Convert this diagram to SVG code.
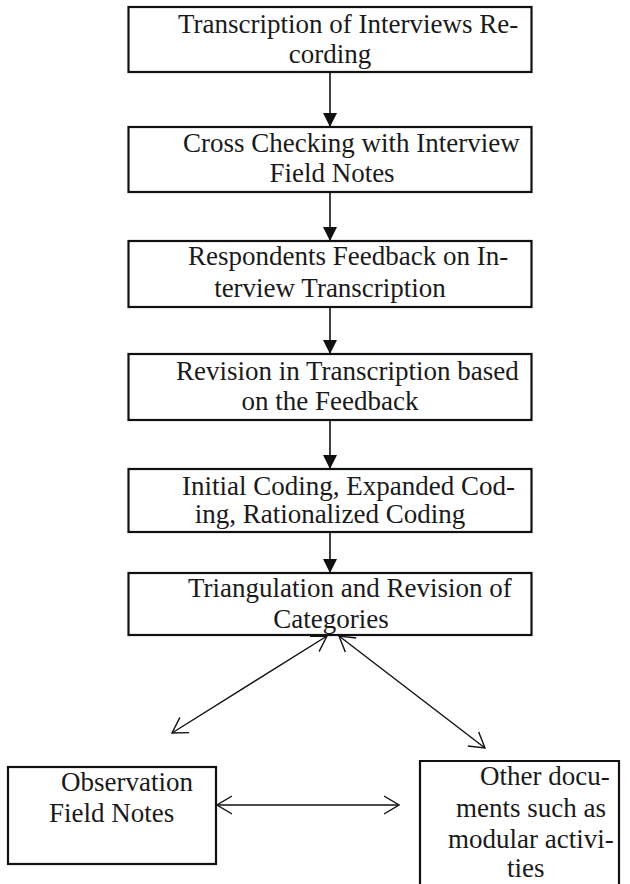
<svg xmlns="http://www.w3.org/2000/svg" width="630" height="884" viewBox="0 0 630 884">
  <defs>
    <style>
      .box { fill: #fff; stroke: #111; stroke-width: 2.2; }
      .lbl { font-family: "Liberation Serif", "Times New Roman", serif; font-size: 27px; fill: #1a1a1a; }
      .mid { text-anchor: middle; }
      .flow { stroke: #111; stroke-width: 1.6; fill: none; }
      .link { stroke: #111; stroke-width: 1.4; fill: none; }
    </style>
    <marker id="solid" viewBox="0 0 14 14" refX="14" refY="7" markerWidth="14" markerHeight="14" markerUnits="userSpaceOnUse" orient="auto">
      <path d="M0,0 L14,7 L0,14 Z" fill="#111"/>
    </marker>
    <marker id="open" viewBox="0 0 16 20" refX="15" refY="10" markerWidth="16" markerHeight="20" markerUnits="userSpaceOnUse" orient="auto-start-reverse">
      <path d="M0,1 L15,10 L0,19" fill="none" stroke="#111" stroke-width="1.4"/>
    </marker>
  </defs>
  <rect width="630" height="884" fill="#fff"/>

  <g id="n1">
    <rect class="box" x="128.5" y="7" width="403" height="65"/>
    <text class="lbl" x="178" y="33">Transcription of Interviews Re-</text>
    <text class="lbl mid" x="330" y="63">cording</text>
  </g>
  <g id="n2">
    <rect class="box" x="128.5" y="127" width="403" height="65"/>
    <text class="lbl" x="183" y="152">Cross Checking with Interview</text>
    <text class="lbl mid" x="332" y="182">Field Notes</text>
  </g>
  <g id="n3">
    <rect class="box" x="128.5" y="241" width="403" height="66"/>
    <text class="lbl" x="188" y="265">Respondents Feedback on In-</text>
    <text class="lbl mid" x="330" y="297">terview Transcription</text>
  </g>
  <g id="n4">
    <rect class="box" x="128.5" y="354" width="403" height="66"/>
    <text class="lbl" x="176" y="380">Revision in Transcription based</text>
    <text class="lbl mid" x="330" y="410">on the Feedback</text>
  </g>
  <g id="n5">
    <rect class="box" x="128.5" y="469" width="403" height="63"/>
    <text class="lbl" x="182" y="495">Initial Coding, Expanded Cod-</text>
    <text class="lbl mid" x="330" y="523">ing, Rationalized Coding</text>
  </g>
  <g id="n6">
    <rect class="box" x="128.5" y="573" width="403" height="62"/>
    <text class="lbl" x="188" y="597">Triangulation and Revision of</text>
    <text class="lbl mid" x="331" y="628">Categories</text>
  </g>
  <g id="n7">
    <rect class="box" x="8" y="767" width="208" height="97"/>
    <text class="lbl" x="61" y="791">Observation</text>
    <text class="lbl" x="49" y="822">Field Notes</text>
  </g>
  <g id="n8">
    <path class="box" d="M420,890 L420,761 L619,761 L619,890"/>
    <text class="lbl" x="480" y="785">Other docu-</text>
    <text class="lbl" x="456" y="817">ments such as</text>
    <text class="lbl" x="448" y="848">modular activi-</text>
    <text class="lbl" x="507" y="877">ties</text>
  </g>

  <g id="connectors">
    <line class="flow" x1="330" y1="73" x2="330" y2="127" marker-end="url(#solid)"/>
    <line class="flow" x1="330" y1="193" x2="330" y2="241" marker-end="url(#solid)"/>
    <line class="flow" x1="330" y1="308" x2="330" y2="354" marker-end="url(#solid)"/>
    <line class="flow" x1="330" y1="421" x2="330" y2="469" marker-end="url(#solid)"/>
    <line class="flow" x1="330" y1="533" x2="330" y2="573" marker-end="url(#solid)"/>
    <line class="link" x1="327" y1="636" x2="172" y2="733" marker-start="url(#open)" marker-end="url(#open)"/>
    <line class="link" x1="339" y1="636" x2="485" y2="748" marker-start="url(#open)" marker-end="url(#open)"/>
    <line class="link" x1="217" y1="805" x2="399" y2="805" marker-start="url(#open)" marker-end="url(#open)"/>
  </g>
</svg>
